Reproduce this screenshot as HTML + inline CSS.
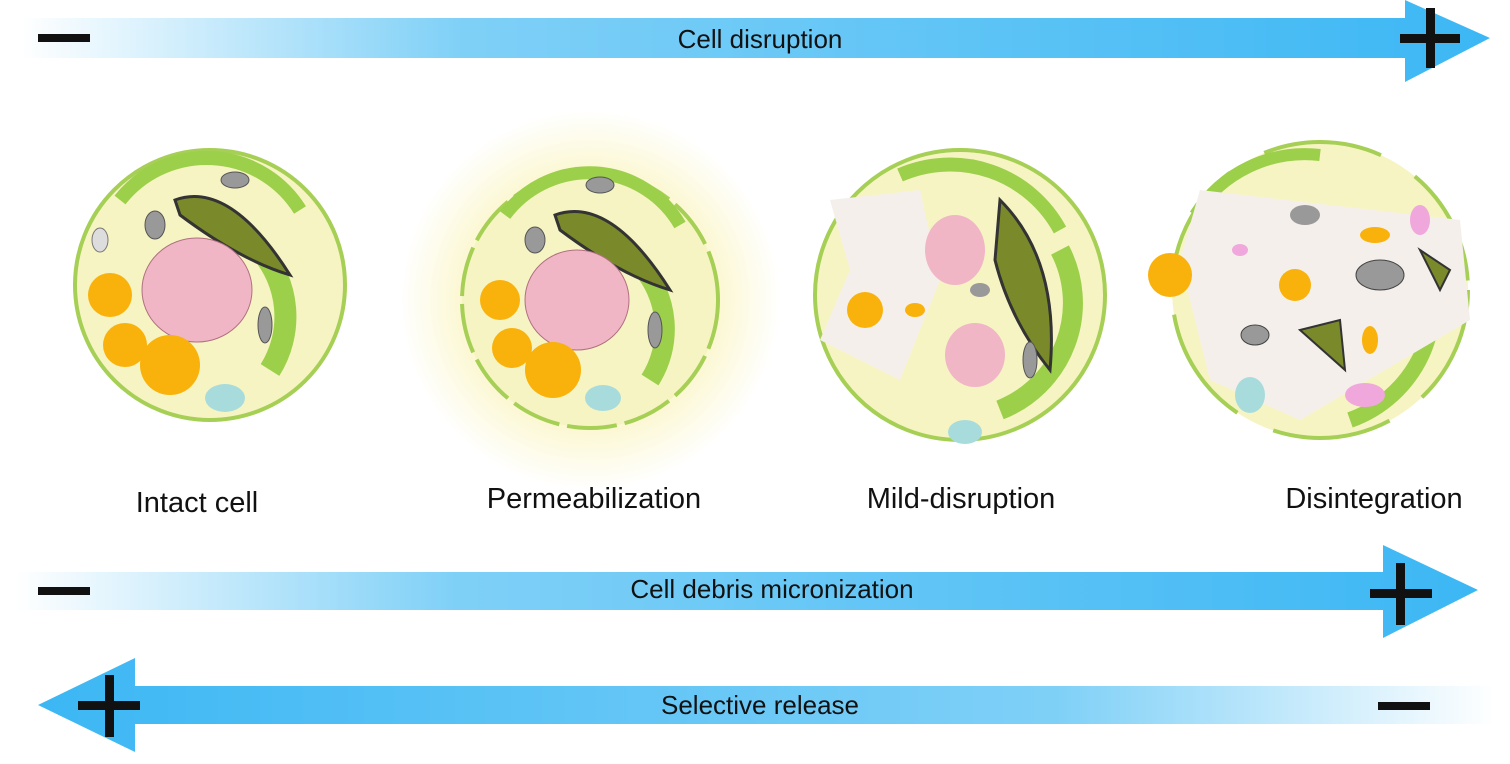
<!DOCTYPE html>
<html><head><style>
body{margin:0;background:#fff;width:1510px;height:759px;overflow:hidden;font-family:"Liberation Sans",sans-serif}
</style></head><body>
<svg width="1510" height="759" viewBox="0 0 1510 759" xmlns="http://www.w3.org/2000/svg">
<defs>
<linearGradient id="gr" x1="0" x2="1"><stop offset="0" stop-color="#fff"/><stop offset="0.3" stop-color="#7fd0f7"/><stop offset="1" stop-color="#3cb7f4"/></linearGradient>
<linearGradient id="gl" x1="1" x2="0"><stop offset="0" stop-color="#fff"/><stop offset="0.3" stop-color="#7fd0f7"/><stop offset="1" stop-color="#3cb7f4"/></linearGradient>
<radialGradient id="glow"><stop offset="0.6" stop-color="#fbf6c8"/><stop offset="1" stop-color="#fff"/></radialGradient>
</defs>
<!-- arrow 1 -->
<path d="M20 18 H1405 V0 L1490 38 L1405 82 V58 H20 Z" fill="url(#gr)"/>
<rect x="38" y="34" width="52" height="8" fill="#111"/>
<rect x="1400" y="34" width="60" height="9" fill="#111"/><rect x="1426" y="8" width="9" height="60" fill="#111"/>
<text x="760" y="48" font-size="26" text-anchor="middle" fill="#111">Cell disruption</text>
<!-- arrow 2 -->
<path d="M15 572 H1383 V545 L1478 590 L1383 638 V610 H15 Z" fill="url(#gr)"/>
<rect x="38" y="587" width="52" height="8" fill="#111"/>
<rect x="1370" y="589" width="62" height="9" fill="#111"/><rect x="1396" y="563" width="9" height="62" fill="#111"/>
<text x="772" y="598" font-size="26" text-anchor="middle" fill="#111">Cell debris micronization</text>
<!-- arrow 3 -->
<path d="M1495 686 H135 V658 L38 705 L135 752 V724 H1495 Z" fill="url(#gl)"/>
<rect x="78" y="701" width="62" height="9" fill="#111"/><rect x="105" y="675" width="9" height="62" fill="#111"/>
<rect x="1378" y="702" width="52" height="8" fill="#111"/>
<text x="760" y="714" font-size="26" text-anchor="middle" fill="#111">Selective release</text>
<!-- cells -->
<circle cx="590" cy="300" r="190" fill="url(#glow)"/>
<g>
<circle cx="210" cy="285" r="135" fill="#f7f4c3" stroke="#a6cf55" stroke-width="4"/>
<path d="M120 200 A110 110 0 0 1 300 210" stroke="#9ccf4a" stroke-width="14" fill="none"/>
<path d="M260 250 A100 100 0 0 1 270 370" stroke="#9ccf4a" stroke-width="22" fill="none"/>
<path d="M175 200 Q230 180 290 275 Q240 260 180 215Z" fill="#7a8a2a" stroke="#333" stroke-width="3"/>
<ellipse cx="197" cy="290" rx="55" ry="52" fill="#f0b6c6" stroke="#b07080"/>
<ellipse cx="155" cy="225" rx="10" ry="14" fill="#999" stroke="#555"/><ellipse cx="235" cy="180" rx="14" ry="8" fill="#999" stroke="#555"/>
<ellipse cx="265" cy="325" rx="7" ry="18" fill="#999" stroke="#555"/><ellipse cx="100" cy="240" rx="8" ry="12" fill="#ddd" stroke="#777"/>
<circle cx="110" cy="295" r="22" fill="#f9b20b"/><circle cx="125" cy="345" r="22" fill="#f9b20b"/><circle cx="170" cy="365" r="30" fill="#f9b20b"/>
<ellipse cx="225" cy="398" rx="20" ry="14" fill="#a8dcdc"/>
</g>
<g>
<circle cx="590" cy="300" r="128" fill="#f7f4c3" stroke="#a6cf55" stroke-width="4" stroke-dasharray="50 8"/>
<path d="M505 215 A105 105 0 0 1 680 225" stroke="#9ccf4a" stroke-width="13" fill="none"/>
<path d="M640 265 A95 95 0 0 1 650 380" stroke="#9ccf4a" stroke-width="20" fill="none"/>
<path d="M555 215 Q610 195 670 290 Q620 275 560 230Z" fill="#7a8a2a" stroke="#333" stroke-width="3"/>
<ellipse cx="577" cy="300" rx="52" ry="50" fill="#f0b6c6" stroke="#b07080"/>
<ellipse cx="535" cy="240" rx="10" ry="13" fill="#999" stroke="#555"/><ellipse cx="600" cy="185" rx="14" ry="8" fill="#999" stroke="#555"/>
<ellipse cx="655" cy="330" rx="7" ry="18" fill="#999" stroke="#555"/>
<circle cx="500" cy="300" r="20" fill="#f9b20b"/><circle cx="512" cy="348" r="20" fill="#f9b20b"/><circle cx="553" cy="370" r="28" fill="#f9b20b"/>
<ellipse cx="603" cy="398" rx="18" ry="13" fill="#a8dcdc"/>
</g>
<g>
<circle cx="960" cy="295" r="145" fill="#f7f4c3" stroke="#a6cf55" stroke-width="4"/>
<path d="M900 175 A125 125 0 0 1 1060 230" stroke="#9ccf4a" stroke-width="14" fill="none"/>
<path d="M1060 250 A115 115 0 0 1 1000 410" stroke="#9ccf4a" stroke-width="20" fill="none"/>
<path d="M830 200 L920 190 L940 280 L900 380 L820 340 L850 270Z" fill="#f4efeb"/>
<path d="M1000 200 Q1060 260 1050 370 Q1010 320 995 260Z" fill="#7a8a2a" stroke="#333" stroke-width="3"/>
<ellipse cx="955" cy="250" rx="30" ry="35" fill="#f0b6c6"/>
<ellipse cx="975" cy="355" rx="30" ry="32" fill="#f0b6c6"/>
<ellipse cx="980" cy="290" rx="10" ry="7" fill="#999"/><ellipse cx="1030" cy="360" rx="7" ry="18" fill="#999" stroke="#555"/>
<circle cx="865" cy="310" r="18" fill="#f9b20b"/><ellipse cx="915" cy="310" rx="10" ry="7" fill="#f9b20b"/>
<ellipse cx="965" cy="432" rx="17" ry="12" fill="#a8dcdc"/>
</g>
<g>
<circle cx="1320" cy="290" r="148" fill="#f7f4c3" stroke="#a6cf55" stroke-width="4" stroke-dasharray="120 40"/>
<path d="M1195 215 A130 130 0 0 1 1320 155" stroke="#9ccf4a" stroke-width="12" fill="none"/>
<path d="M1430 330 A125 125 0 0 1 1350 420" stroke="#9ccf4a" stroke-width="16" fill="none"/>
<path d="M1200 190 L1460 220 L1470 320 L1300 420 L1210 380 L1180 260Z" fill="#f4efeb"/>
<circle cx="1170" cy="275" r="22" fill="#f9b20b"/><circle cx="1295" cy="285" r="16" fill="#f9b20b"/>
<ellipse cx="1375" cy="235" rx="15" ry="8" fill="#f9b20b"/><ellipse cx="1370" cy="340" rx="8" ry="14" fill="#f9b20b"/>
<ellipse cx="1380" cy="275" rx="24" ry="15" fill="#999" stroke="#444"/>
<ellipse cx="1305" cy="215" rx="15" ry="10" fill="#999"/>
<ellipse cx="1255" cy="335" rx="14" ry="10" fill="#999" stroke="#444"/>
<path d="M1300 330 L1340 320 L1345 370 Z" fill="#7a8a2a" stroke="#333" stroke-width="2"/>
<path d="M1420 250 L1450 270 L1440 290 Z" fill="#7a8a2a" stroke="#333" stroke-width="2"/>
<ellipse cx="1420" cy="220" rx="10" ry="15" fill="#f0a8dc"/><ellipse cx="1365" cy="395" rx="20" ry="12" fill="#f0a8dc"/>
<ellipse cx="1240" cy="250" rx="8" ry="6" fill="#f0a8dc"/>
<ellipse cx="1250" cy="395" rx="15" ry="18" fill="#a8dcdc"/>
</g>
<g font-size="29" fill="#111" text-anchor="middle">
<text x="197" y="512">Intact cell</text>
<text x="594" y="508">Permeabilization</text>
<text x="961" y="508">Mild-disruption</text>
<text x="1374" y="508">Disintegration</text>
</g>
</svg>
</body></html>
